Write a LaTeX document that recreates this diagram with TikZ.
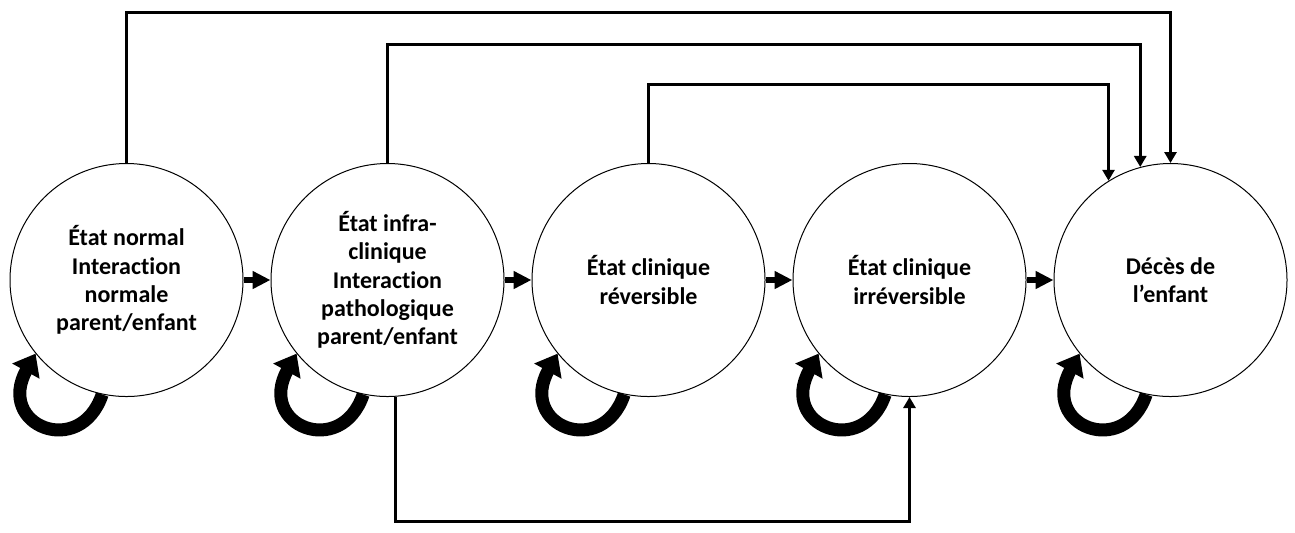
\documentclass[tikz,border=0pt]{standalone}
\usepackage{fontspec}
\setmainfont{Carlito}[Ligatures=NoCommon]
\usetikzlibrary{positioning,arrows.meta}
\begin{document}
\begin{tikzpicture}[
      x=0.5pt, y=-0.5pt,
      node distance=130.5pt,
      etat/.style={
        draw,
        circle,
        line width=0.5pt,
        minimum size=116.5pt,
        inner sep=0pt,
        align=center,
        font=\bfseries\fontsize{12pt}{14.15pt}\selectfont
      },
      passage/.style={line width=3pt, -{Triangle[length=9pt,width=8.5pt]}},
      saut/.style={line width=1.5pt, -{Triangle[length=5.5pt,width=6pt]}},
      boucle/.style={line width=6.5pt, -{Triangle[length=10pt,width=15pt]}}
    ]
    \useasboundingbox (0,0) rectangle (1295,532);
    \node[etat] (normal) at (126.5,280) {État normal\\Interaction\\normale\\parent/enfant} ;
    \node[etat, right of=normal] (infra) {État infra-\\clinique\\Interaction\\pathologique\\parent/enfant} ;
    \node[etat, right of=infra] (rever) {État clinique\\réversible} ;
    \node[etat, right of=rever] (irrever) {État clinique\\irréversible} ;
    \node[etat, right of=irrever] (deces) {Décès de\\l’enfant} ;
    \coordinate (haut1) at (0,12);
    \coordinate (haut2) at (0,44);
    \coordinate (haut3) at (0,84);
    \coordinate (bas) at (0,521);

    % passages d'un etat au suivant
    \draw[passage] (normal) -- (infra);
    \draw[passage] (infra) -- (rever);
    \draw[passage] (rever) -- (irrever);
    \draw[passage] (irrever) -- (deces);

    % sauts vers le deces
    \draw[saut] (normal.north) -- (normal.north |- haut1) -| (deces.north);
    \draw[saut] (infra.north) -- (infra.north |- haut2) -| (deces.105);
    \draw[saut] (rever.north) -- (rever.north |- haut3) -| (deces.122);
    \draw[saut] (infra.274) -- (infra.274 |- bas) -| (irrever.south);

    % maintien dans l'etat
    \foreach \n in {normal,infra,rever,irrever,deces}
      \draw[boucle] (\n.258) .. controls +(-22,65) and +(-40,72) .. (\n.219);
\end{tikzpicture}
\end{document}
